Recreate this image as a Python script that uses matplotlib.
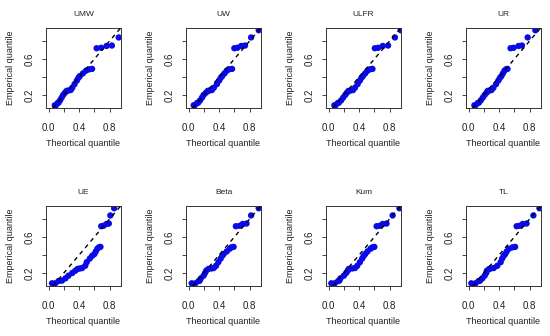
import matplotlib
matplotlib.use("Agg")
import matplotlib.pyplot as plt

plt.rcParams['font.family'] = ['Liberation Sans', 'DejaVu Sans']

# empirical quantiles (sorted sample), shared by all panels
empirical = [0.085, 0.085, 0.11, 0.115, 0.14, 0.17, 0.20, 0.225, 0.245, 0.25,
             0.255, 0.28, 0.32, 0.36, 0.39, 0.41, 0.44, 0.47, 0.485, 0.49,
             0.72, 0.725, 0.745, 0.75, 0.84, 0.92]

# theoretical quantiles for each fitted model
models = ["UMW", "UW", "ULFR", "UR", "UE", "Beta", "Kum", "TL"]
q_umw = [0.08, 0.095, 0.118, 0.13, 0.15, 0.17, 0.19, 0.215, 0.235, 0.26,
         0.29, 0.31, 0.34, 0.37, 0.39, 0.41, 0.45, 0.49, 0.53, 0.57,
         0.63, 0.69, 0.76, 0.83, 0.92, 1.02]
q_uw = [0.066, 0.08, 0.11, 0.125, 0.15, 0.175, 0.196, 0.227, 0.25, 0.275,
        0.305, 0.33, 0.37, 0.40, 0.42, 0.44, 0.47, 0.50, 0.53, 0.57,
        0.60, 0.64, 0.69, 0.74, 0.82, 0.92]
q_ulfr = [0.075, 0.09, 0.12, 0.135, 0.164, 0.19, 0.217, 0.24, 0.26, 0.29,
          0.32, 0.345, 0.38, 0.41, 0.43, 0.45, 0.48, 0.51, 0.54, 0.575,
          0.606, 0.65, 0.71, 0.78, 0.87, 0.947]
q_ur = [0.075, 0.09, 0.12, 0.135, 0.16, 0.185, 0.21, 0.235, 0.25, 0.275,
        0.30, 0.325, 0.36, 0.39, 0.41, 0.43, 0.45, 0.47, 0.49, 0.51,
        0.55, 0.59, 0.655, 0.70, 0.775, 0.876]
q_ue = [0.044, 0.087, 0.13, 0.175, 0.22, 0.26, 0.31, 0.35, 0.38, 0.41,
        0.44, 0.48, 0.50, 0.54, 0.57, 0.60, 0.62, 0.64, 0.66, 0.68,
        0.69, 0.72, 0.76, 0.79, 0.81, 0.86]
q_beta = [0.04, 0.087, 0.13, 0.145, 0.16, 0.196, 0.215, 0.23, 0.26, 0.30,
          0.33, 0.36, 0.39, 0.42, 0.44, 0.46, 0.50, 0.54, 0.56, 0.59,
          0.62, 0.67, 0.71, 0.76, 0.82, 0.92]
q_kum = [0.035, 0.08, 0.124, 0.14, 0.155, 0.20, 0.23, 0.25, 0.265, 0.31,
         0.345, 0.376, 0.41, 0.44, 0.46, 0.48, 0.51, 0.55, 0.575, 0.60,
         0.63, 0.67, 0.71, 0.76, 0.84, 0.93]
q_tl = [0.035, 0.09, 0.13, 0.15, 0.18, 0.21, 0.23, 0.24, 0.27, 0.29,
        0.33, 0.376, 0.42, 0.44, 0.46, 0.48, 0.50, 0.53, 0.575, 0.61,
        0.63, 0.67, 0.71, 0.76, 0.85, 0.93]
theoretical = [q_umw, q_uw, q_ulfr, q_ur, q_ue, q_beta, q_kum, q_tl]

xticks = [0.0, 0.2, 0.4, 0.6, 0.8]
xticklabels = ["0.0", "", "0.4", "", "0.8"]
yticks = [0.2, 0.4, 0.6, 0.8]
yticklabels = ["0.2", "", "0.6", ""]

W, H = 550, 336
fig = plt.figure(figsize=(W / 100, H / 100), dpi=100)

col_left = [46, 186, 326, 466]
row_top = [28, 206]
bw, bh = 75, 80

for i, (name, q) in enumerate(zip(models, theoretical)):
    r, c = divmod(i, 4)
    ax = fig.add_axes([col_left[c] / W, 1 - (row_top[r] + bh) / H, bw / W, bh / H])
    ax.scatter(q, empirical, s=21, color="#0a0ae8", edgecolors="none", zorder=2)
    ax.axline((0, 0), slope=1, color="black", lw=1.0, ls=(0, (3, 3)), zorder=3)
    ax.set_xlim(-0.035, 0.95)
    ax.set_ylim(0.055, 0.945)

    ax.set_xticks(xticks)
    ax.set_xticklabels(xticklabels)
    ax.set_yticks(yticks)
    ax.set_yticklabels(yticklabels, rotation=90, va="center")
    ax.tick_params(length=3, width=0.6, labelsize=7, colors="#222222")
    ax.tick_params(axis="x", pad=7.5)
    ax.tick_params(axis="y", pad=5)
    for sp in ax.spines.values():
        sp.set_color("#333333")
        sp.set_linewidth(0.7)

    ax.set_title(name, fontsize=6, pad=8.5, color="#222222")
    ax.set_xlabel("Theortical quantile", fontsize=6.5, color="#222222")
    ax.set_ylabel("Emperical quantile", fontsize=6.5, color="#222222")
    ax.xaxis.set_label_coords(0.5, -0.39)
    ax.yaxis.set_label_coords(-0.41, 0.5)

fig.savefig("out.png", dpi=100)
